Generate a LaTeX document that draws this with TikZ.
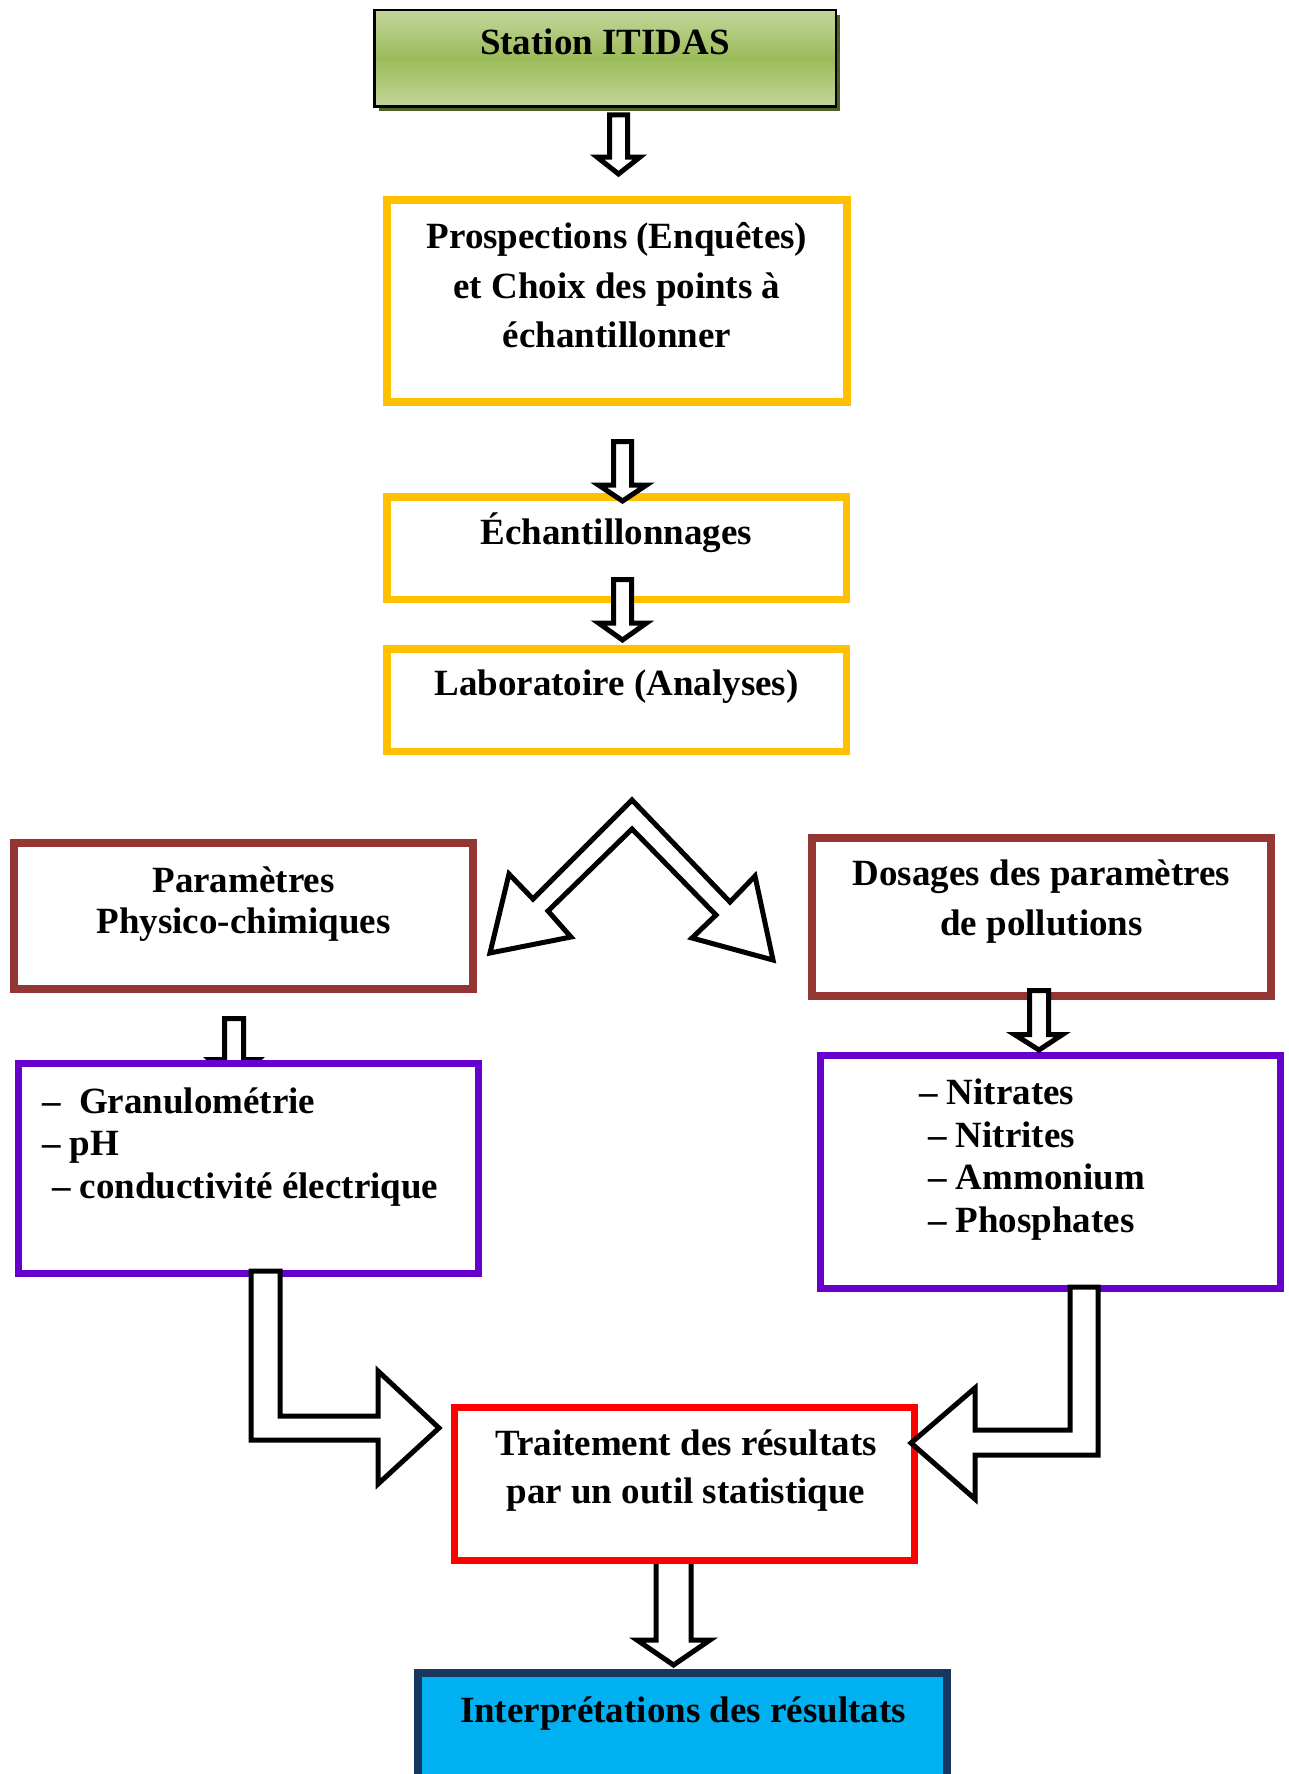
\documentclass[tikz,border=0pt]{standalone}
\usepackage{fontspec}
\setmainfont{Liberation Serif}
\definecolor{yel}{HTML}{FFC000}
\definecolor{brn}{HTML}{943634}
\definecolor{pur}{HTML}{6600CC}
\definecolor{rd}{HTML}{FF0000}
\definecolor{bluefill}{HTML}{00B0F0}
\definecolor{navy}{HTML}{17375E}
\definecolor{gLight}{HTML}{C3D69B}
\definecolor{gMid}{HTML}{9BBB59}
\definecolor{gShadow}{HTML}{4F6228}
\begin{document}
\begin{tikzpicture}[x=1pt,y=-1pt,
  txt/.style={inner sep=0pt, outer sep=0pt, font=\fontsize{37}{44}\selectfont\bfseries, anchor=base},
  ltxt/.style={txt, anchor=base west},
  box/.style={rectangle, inner sep=0pt, outer sep=0pt, fill=white},
  ybox/.style={box, draw=yel, line width=7.5pt},
  bbox/.style={box, draw=brn, line width=8pt},
  pbox/.style={box, draw=pur, line width=7pt},
  rbox/.style={box, draw=rd, line width=7pt},
  blockarrow/.style={draw=black, line width=5pt, fill=white, line join=miter, miter limit=10}
]
\useasboundingbox (0,0) rectangle (1289,1774);
\fill[white] (0,0) rectangle (1289,1774);

% Station ITIDAS
\node[rectangle, inner sep=0pt, fill=gShadow, minimum width=461.5pt, minimum height=96.5pt] (shadow) at (609.5,63) {};
\node[rectangle, inner sep=0pt, draw=black, line width=2.5pt, top color=gLight, bottom color=gLight, middle color=gMid, minimum width=461.5pt, minimum height=96.5pt] (station) at (605,58.5) {};
\node[txt] (tstation) at (605,55) {Station ITIDAS};

% Prospections
\node[ybox, minimum width=460pt, minimum height=202pt] (prosp) at (617,301) {};
\node[txt] (tp1) at (617,248) {Prospections (Enquêtes)};
\node[txt] (tp2) at (617,298) {et Choix des points à};
\node[txt] (tp3) at (617,347) {échantillonner};

% Echantillonnages
\node[ybox, minimum width=459.5pt, minimum height=102.5pt] (echant) at (616.5,548) {};
\node[txt] (techant) at (616.5,544) {Échantillonnages};

% Laboratoire
\node[ybox, minimum width=459.5pt, minimum height=102.5pt] (labo) at (616.5,700) {};
\node[txt] (tlabo) at (616.5,695) {Laboratoire (Analyses)};

% arrows top
\draw[blockarrow] (609.5,115) -- (627.5,115) -- (627.5,157) -- (640,157) -- (618.5,174) -- (597,157) -- (609.5,157) -- cycle;
\draw[blockarrow] (613.5,441.5) -- (631.5,441.5) -- (631.5,485) -- (646.5,485) -- (622.5,501) -- (598.5,485) -- (613.5,485) -- cycle;
\draw[blockarrow] (613.5,579.5) -- (631.5,579.5) -- (631.5,623) -- (646.5,623) -- (622.5,640) -- (598.5,623) -- (613.5,623) -- cycle;

% Parametres physico-chimiques
\node[bbox, minimum width=459pt, minimum height=146pt] (param) at (243.5,916) {};
\node[txt] (tpa1) at (243.5,892) {Paramètres};
\node[txt] (tpa2) at (243.5,933) {Physico-chimiques};

% Dosages
\node[bbox, minimum width=459pt, minimum height=158pt] (dos) at (1041.5,917) {};
\node[txt] (td1) at (1041.5,885) {Dosages des paramètres};
\node[txt] (td2) at (1041.5,935) {de pollutions};

% chevron arrow
\draw[blockarrow] (632,800) -- (730,902) -- (755,876) -- (773,960) -- (692,938) -- (716,915) -- (632,829) -- (548,911) -- (571,937) -- (490,953) -- (509,874) -- (533,899) -- cycle;

% small arrow left (under purple box)
\draw[blockarrow] (224.5,1018.5) -- (243.5,1018.5) -- (243.5,1059.5) -- (258.5,1059.5) -- (234,1082) -- (209.5,1059.5) -- (224.5,1059.5) -- cycle;

% left purple list
\node[pbox, minimum width=460pt, minimum height=210pt] (leftlist) at (248.5,1168.5) {};
\node[ltxt] (l1) at (42,1113) {–\ \ Granulométrie};
\node[ltxt] (l2) at (42,1155) {– pH};
\node[ltxt] (l3) at (52,1198) {– conductivité électrique};

% right purple list
\node[pbox, minimum width=460pt, minimum height=233pt] (rightlist) at (1050.5,1172) {};
\node[ltxt] (r1) at (919,1104) {– Nitrates};
\node[ltxt] (r2) at (928,1147) {– Nitrites};
\node[ltxt] (r3) at (928,1189) {– Ammonium};
\node[ltxt] (r4) at (928,1232) {– Phosphates};

% small arrow right
\draw[blockarrow] (1029.5,990.5) -- (1048.5,990.5) -- (1048.5,1034.5) -- (1062.5,1034.5) -- (1039,1050) -- (1014.5,1034.5) -- (1029.5,1034.5) -- cycle;

% bottom arrow (under red box)
\draw[blockarrow] (656,1555) -- (691,1555) -- (691,1640) -- (710,1640) -- (673.5,1665) -- (637,1640) -- (656,1640) -- cycle;

% Traitement
\node[rbox, minimum width=460pt, minimum height=153pt] (trait) at (684.5,1484) {};
\node[txt] (tt1) at (686,1455) {Traitement des résultats};
\node[txt] (tt2) at (686,1503) {par un outil statistique};

% L arrows
\draw[blockarrow] (251,1271) -- (280,1271) -- (280,1416) -- (378,1416) -- (378,1371) -- (439,1428) -- (378,1484) -- (378,1440) -- (251,1440) -- cycle;
\draw[blockarrow] (1098,1287) -- (1070,1287) -- (1070,1430) -- (975,1430) -- (975,1388) -- (911,1443) -- (975,1499) -- (975,1455) -- (1098,1455) -- cycle;

% Interpretations
\node[rectangle, inner sep=0pt, draw=navy, fill=bluefill, line width=8pt, minimum width=529pt, minimum height=113pt] (interp) at (682.5,1729.5) {};
\node[txt] (ti) at (683,1722) {Interprétations des résultats};
\end{tikzpicture}
\end{document}
